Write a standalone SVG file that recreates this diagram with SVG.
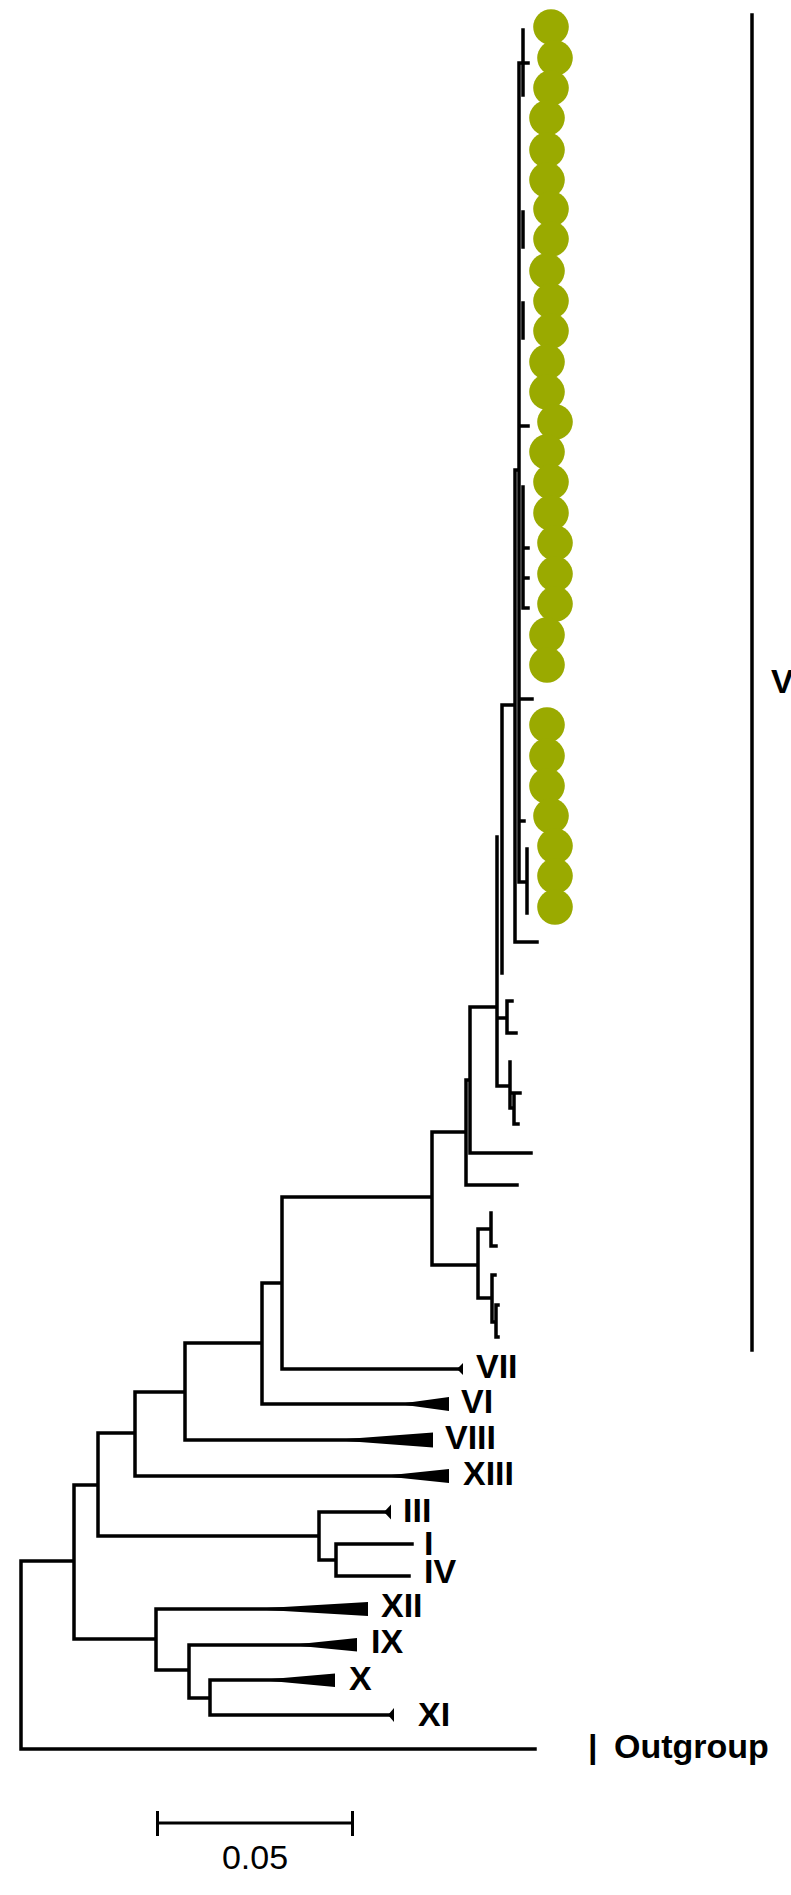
<svg xmlns="http://www.w3.org/2000/svg" width="791" height="1895" viewBox="0 0 791 1895">
<style>
.br{fill:none;stroke:#000;stroke-width:3.5;stroke-linecap:square}
.tri{fill:#000;stroke:none}
.lb{font-family:"Liberation Sans",Arial,sans-serif;font-weight:bold;font-size:34px;fill:#000}
.sc{font-family:"Liberation Sans",Arial,sans-serif;font-size:34px;fill:#000}
.dot{fill:#9aaa00}
</style>
<rect width="791" height="1895" fill="#fff"/>
<g id="connectors">
<path class="br" d="M21 1561V1749 M21 1561H74 M21 1749H535
M74 1485V1639 M74 1485H98 M74 1639H156
M156 1609V1670 M156 1609H360 M156 1670H189
M189 1645V1698 M189 1645H350 M189 1698H210
M210 1680V1715 M210 1680H330 M210 1715H391
M98 1433V1536 M98 1433H135 M98 1536H319
M319 1512V1560 M319 1512H386 M319 1560H336
M336 1544V1576 M336 1544H412 M336 1576H409
M135 1392V1476 M135 1392H185 M135 1476H440
M185 1343V1440 M185 1343H262 M185 1440H425
M262 1283V1404 M262 1283H282 M262 1404H440
M282 1197V1369 M282 1197H432 M282 1369H459
M432 1132V1265 M432 1132H466 M432 1265H478
M478 1229V1298 M478 1229H491 M478 1298H492
M491 1213V1246 M491 1246H496
M492 1275V1322 M492 1275H495 M492 1322H496
M496 1305V1337 M496 1305H498 M496 1337H498
M466 1080V1185 M466 1080H470 M466 1185H517
M470 1007V1153 M470 1007H497 M470 1153H531
M497 837V1086 M497 1018H507 M497 1086H510
M507 1001V1033 M507 1001H512 M507 1033H516
M510 1062V1108 M510 1108H514 M510 1093H520
M514 1093V1124 M514 1124H518
M502 705V973 M502 705H515
M515 470V942 M515 942H537 M515 470H519
M519 63V882 M519 63H528 M519 426H528 M519 699H532 M519 821H524 M519 882H527
M527 849V913
M523 30V95 M523 212V247 M523 303V338 M523 487V608
M523 548H528 M523 578H528 M523 608H528"/>
<path class="br" style="stroke-width:3.5" d="M752 15V1350"/>
</g>
<g id="clade-VII"><polygon class="tri" points="457,1369 463,1363 463,1375"/><text class="lb" x="476" y="1378">VII</text></g>
<g id="clade-VI"><polygon class="tri" points="398,1404 449,1397 449,1411"/><text class="lb" x="461" y="1413">VI</text></g>
<g id="clade-VIII"><polygon class="tri" points="333,1440 433,1432.5 433,1447.5"/><text class="lb" x="445" y="1449">VIII</text></g>
<g id="clade-XIII"><polygon class="tri" points="382,1476 449,1469 449,1483"/><text class="lb" x="463" y="1485">XIII</text></g>
<g id="clade-III"><polygon class="tri" points="384,1512 391,1504.5 391,1519.5"/><text class="lb" x="403" y="1522">III</text></g>
<g id="clade-I"><text class="lb" x="424" y="1555">I</text></g>
<g id="clade-IV"><text class="lb" x="424" y="1583">IV</text></g>
<g id="clade-XII"><polygon class="tri" points="250,1609 368,1602 368,1616"/><text class="lb" x="381" y="1617">XII</text></g>
<g id="clade-IX"><polygon class="tri" points="290,1645 357,1638 357,1651.5"/><text class="lb" x="371" y="1653">IX</text></g>
<g id="clade-X"><polygon class="tri" points="260,1680 335,1673.5 335,1687"/><text class="lb" x="349" y="1690">X</text></g>
<g id="clade-XI"><polygon class="tri" points="388,1715 394,1708 394,1722"/><text class="lb" x="418" y="1726">XI</text></g>
<g id="outgroup"><text class="lb" x="588" y="1758">| <tspan x="614">Outgroup</tspan></text></g>
<g id="clade-V"><text class="lb" x="771" y="693">V</text></g>
<g id="isolates">
<circle class="dot" cx="551" cy="27" r="17.8"/>
<circle class="dot" cx="555" cy="58" r="17.8"/>
<circle class="dot" cx="551" cy="88" r="17.8"/>
<circle class="dot" cx="547" cy="118" r="17.8"/>
<circle class="dot" cx="547" cy="150" r="17.8"/>
<circle class="dot" cx="547" cy="180" r="17.8"/>
<circle class="dot" cx="551" cy="209" r="17.8"/>
<circle class="dot" cx="551" cy="239" r="17.8"/>
<circle class="dot" cx="547" cy="271" r="17.8"/>
<circle class="dot" cx="551" cy="301" r="17.8"/>
<circle class="dot" cx="551" cy="331" r="17.8"/>
<circle class="dot" cx="547" cy="362" r="17.8"/>
<circle class="dot" cx="547" cy="392" r="17.8"/>
<circle class="dot" cx="555" cy="422" r="17.8"/>
<circle class="dot" cx="547" cy="452" r="17.8"/>
<circle class="dot" cx="551" cy="482" r="17.8"/>
<circle class="dot" cx="551" cy="513" r="17.8"/>
<circle class="dot" cx="555" cy="543" r="17.8"/>
<circle class="dot" cx="555" cy="574" r="17.8"/>
<circle class="dot" cx="555" cy="604" r="17.8"/>
<circle class="dot" cx="547" cy="635" r="17.8"/>
<circle class="dot" cx="547" cy="665" r="17.8"/>
<circle class="dot" cx="547" cy="725" r="17.8"/>
<circle class="dot" cx="547" cy="756" r="17.8"/>
<circle class="dot" cx="547" cy="786" r="17.8"/>
<circle class="dot" cx="551" cy="816" r="17.8"/>
<circle class="dot" cx="555" cy="846" r="17.8"/>
<circle class="dot" cx="555" cy="876" r="17.8"/>
<circle class="dot" cx="555" cy="907" r="17.8"/>
</g>
<g id="scale-bar">
<path class="br" style="stroke-width:3;stroke-linecap:butt" d="M157.5 1823H352.5 M157.5 1811V1836 M352.5 1811V1836"/>
<text class="sc" x="255" y="1869" text-anchor="middle">0.05</text>
</g>
</svg>
